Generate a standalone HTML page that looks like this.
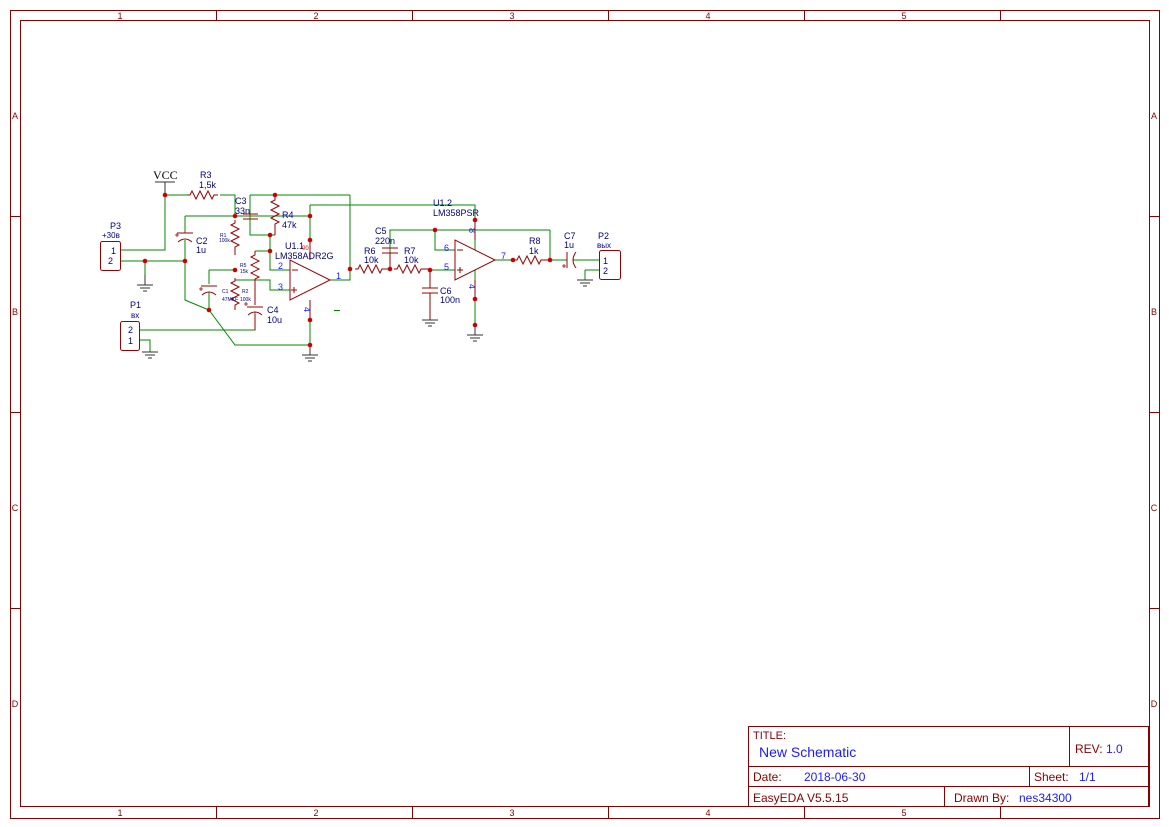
<!DOCTYPE html>
<html><head><meta charset="utf-8"><style>
body{margin:0;background:#fff}
svg{display:block;font-family:"Liberation Sans","DejaVu Sans",sans-serif}
</style></head><body>
<svg width="1169" height="827" viewBox="0 0 1169 827" xmlns="http://www.w3.org/2000/svg">
<g fill="none" stroke="#880000" stroke-width="1">
<rect x="10.5" y="10.5" width="1149" height="808"/>
<rect x="20.5" y="20.5" width="1129" height="786"/>
<path d="M216.5 10v10M412.5 10v10M608.5 10v10M804.5 10v10M1000.5 10v10M216.5 806v12M412.5 806v12M608.5 806v12M804.5 806v12M1000.5 806v12M10 216.5h10M10 412.5h10M10 608.5h10M1149 216.5h10M1149 412.5h10M1149 608.5h10"/>
</g>
<g fill="#880000" font-size="9" text-anchor="middle">
<text x="120" y="19">1</text><text x="316" y="19">2</text><text x="512" y="19">3</text><text x="708" y="19">4</text><text x="904" y="19">5</text>
<text x="120" y="816">1</text><text x="316" y="816">2</text><text x="512" y="816">3</text><text x="708" y="816">4</text><text x="904" y="816">5</text>
<text x="15" y="119">A</text><text x="15" y="315">B</text><text x="15" y="511">C</text><text x="15" y="707">D</text>
<text x="1154" y="119">A</text><text x="1154" y="315">B</text><text x="1154" y="511">C</text><text x="1154" y="707">D</text>
</g>
<g fill="none" stroke="#880000">
<rect x="748.5" y="726.5" width="400" height="80"/>
<path d="M748 766.5h400M748 786.5h400M1069.5 726v40M1029.5 766v20M944.5 786v20"/>
</g>
<g font-size="12">
<text x="753" y="739" fill="#880000" font-size="11">TITLE:</text>
<text x="759" y="757" fill="#1a1aff" font-size="14">New Schematic</text>
<text x="1075" y="753" fill="#880000">REV:</text><text x="1106" y="753" fill="#1a1aff">1.0</text>
<text x="753" y="781" fill="#880000">Date:</text><text x="804" y="781" fill="#1a1aff">2018-06-30</text>
<text x="1034" y="781" fill="#880000">Sheet:</text><text x="1079" y="781" fill="#1a1aff">1/1</text>
<text x="753" y="802" fill="#880000">EasyEDA V5.5.15</text>
<text x="954" y="802" fill="#880000">Drawn By:</text><text x="1019" y="802" fill="#1a1aff">nes34300</text>
</g>
<g fill="none" stroke="#008800" stroke-width="1">
<path d="M165 195v55h-45M165 195h22M220 195h15v21M120 261h65M145 261v14M185 216h125M185 216v17M185 240v60l24 10 26 35h75M209 270v14M209 292v18M235 270h-26M235 280h35v10h20M255 251h15M250 195h100M250 195v40h25M270 235v35h20M310 205v55M310 205h165v15M310 300v45M350 195v85h-20M390 269v-39h160M435 230v20h20M430 270h25M475 250v-30M475 270v55M495 260h18M550 260v-30M550 260h17M573 260h27M585 270h15M585 270v10M140 340h10v12M140 330h115v-18"/>
</g>
<g fill="none" stroke="#990000" stroke-width="1">
<path d="M187 195h3l2-4 4 8 4-8 4 8 4-8 4 8 2-4h4"/>
<path d="M235 220v3l-4 2 8 4-8 4 8 4-8 4 8 4-4 2v8"/>
<path d="M235 278v3l-4 2 8 4-8 4 8 4-8 4 8 4-4 2v5"/>
<path d="M255 251v4l-4 2 8 4-8 4 8 4-8 4 8 4-4 2v6M255 285v20M255 314v16"/>
<path d="M275 195v5l-4 2 8 4-8 4 8 4-8 4 8 4-4 2v11"/>
<path d="M355 269h3l2-4 4 8 4-8 4 8 4-8 4 8 2-4h8"/>
<path d="M394 269h3l2-4 4 8 4-8 4 8 4-8 4 8 2-4h9"/>
<path d="M514 260h3l2-4 4 8 4-8 4 8 4-8 4 8 2-4h7"/>
<path d="M177 233h16M178 242q7-6 14 0M201 286h16M202 295q7-6 14 0M247 307h16M248 315q7-6 14 0M243 214h15M243 219h15M382 248h16M382 253h16M390 253v16M422 288h16M422 293h16M430 270v18M430 293v27M567 252v16M576 252q-6 8 0 16"/>
<path d="M290 260v40l40-20zM455 240v40l40-20zM310 260v-20M310 300v20M475 240v-20M475 280v19M292 270h6M294 287v6M291 290h6M457 250h6M460 267v6M457 270h6"/>
<rect x="100.5" y="241.5" width="20" height="29" rx="2"/>
<rect x="120.5" y="321.5" width="19" height="29" rx="2"/>
<rect x="599.5" y="250.5" width="21" height="29" rx="2"/>
<path d="M175 235h4M177 233v4M199 289h4M201 287v4M244 304h4M246 302v4M562 266h4M564 264v4" stroke-width="0.8"/>
</g>
<g stroke="#333" fill="none">
<path d="M165 182v13M155 182h20"/>
<path d="M137 285h16M140 288h10M143 291h4M145 275v10"/>
<path d="M142 352h16M145 355h10M148 358h4"/>
<path d="M302 355h16M305 358h10M308 361h4M310 345v10"/>
<path d="M422 320h16M425 323h10M428 326h4"/>
<path d="M467 335h16M470 338h10M473 341h4M475 325v10"/>
<path d="M577 280h16M580 283h10M583 286h4"/>
</g>
<g fill="#cc0000">
<circle cx="165" cy="195" r="2.3"/><circle cx="145" cy="261" r="2.3"/><circle cx="185" cy="261" r="2.3"/>
<circle cx="235" cy="216" r="2.3"/><circle cx="310" cy="216" r="2.3"/><circle cx="275" cy="195" r="2.3"/>
<circle cx="270" cy="235" r="2.3"/><circle cx="270" cy="251" r="2.3"/><circle cx="235" cy="270" r="2.3"/>
<circle cx="209" cy="310" r="2.3"/><circle cx="310" cy="240" r="2.3"/><circle cx="310" cy="320" r="2.3"/>
<circle cx="310" cy="345" r="2.3"/><circle cx="350" cy="269" r="2.3"/><circle cx="390" cy="269" r="2.3"/>
<circle cx="430" cy="270" r="2.3"/><circle cx="435" cy="230" r="2.3"/><circle cx="475" cy="220" r="2.3"/>
<circle cx="475" cy="299" r="2.3"/><circle cx="475" cy="325" r="2.3"/><circle cx="513" cy="260" r="2.3"/>
<circle cx="550" cy="260" r="2.3"/>
</g>
<g fill="#000080" font-size="9">
<text x="153" y="179" font-family="Liberation Serif" font-size="12" fill="#000">VCC</text>
<text x="200" y="178">R3</text><text x="199" y="188">1,5k</text>
<text x="110" y="229">P3</text><text x="102" y="238" font-size="8">+30в</text>
<text x="111" y="254">1</text><text x="108" y="264">2</text>
<text x="196" y="244">C2</text><text x="196" y="253">1u</text>
<text x="235" y="204">C3</text><text x="235" y="214">33n</text>
<text x="282" y="218">R4</text><text x="282" y="228">47k</text>
<text x="285" y="249">U1.1</text><text x="275" y="259">LM358ADR2G</text>
<text x="220" y="237" font-size="5">R1</text><text x="219" y="242" font-size="5">100k</text>
<text x="240" y="267" font-size="5">R5</text><text x="240" y="273" font-size="5">15k</text>
<text x="222" y="293" font-size="5">C1</text><text x="222" y="301" font-size="5">47MKF</text>
<text x="242" y="293" font-size="5">R2</text><text x="240" y="301" font-size="5">100k</text>
<text x="267" y="313">C4</text><text x="267" y="323">10u</text>
<text x="130" y="308">P1</text><text x="131" y="318" font-size="8">вх</text>
<text x="128" y="333">2</text><text x="128" y="344">1</text>
<text x="433" y="206">U1.2</text><text x="433" y="216">LM358PSR</text>
<text x="375" y="234">C5</text><text x="375" y="244">220n</text>
<text x="364" y="254">R6</text><text x="364" y="263">10k</text>
<text x="404" y="254">R7</text><text x="404" y="263">10k</text>
<text x="440" y="294">C6</text><text x="440" y="303">100n</text>
<text x="529" y="244">R8</text><text x="529" y="254">1k</text>
<text x="564" y="239">C7</text><text x="564" y="248">1u</text>
<text x="598" y="239">P2</text><text x="597" y="248" font-size="8">вых</text>
<text x="603" y="264">1</text><text x="603" y="274">2</text>
</g>
<g fill="#1a1aff" font-size="9">
<text x="278" y="269">2</text><text x="278" y="290">3</text><text x="336" y="279">1</text>
<text x="444" y="251">6</text><text x="444" y="270">5</text><text x="501" y="259">7</text>
<text transform="translate(304,307) rotate(90)">4</text>
<text transform="translate(469,284) rotate(90)">4</text>
<text transform="translate(469,228) rotate(90)">8</text>
<text x="302" y="250" font-size="6" fill="#cc0000">00</text>
</g>
<path d="M334 310.5h6" stroke="#008800"/>
</svg>
</body></html>
